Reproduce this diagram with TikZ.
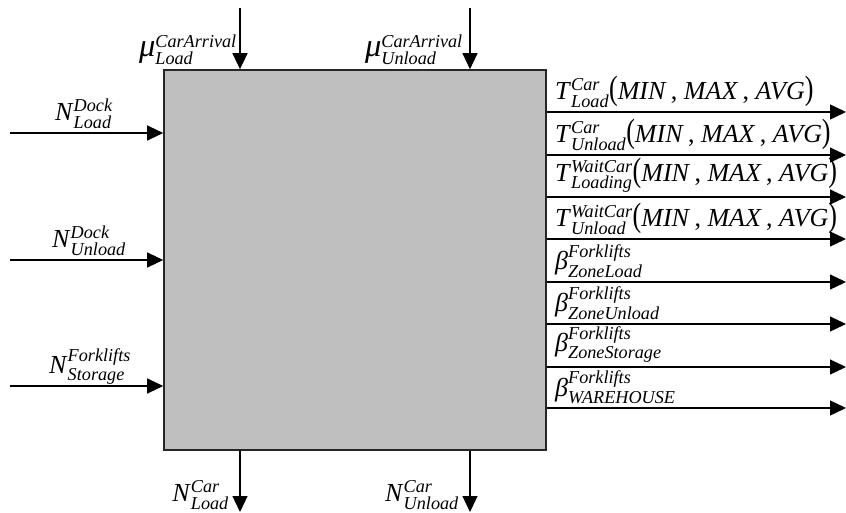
\documentclass[tikz,border=0pt]{standalone}
\usepackage{amsmath}
\usepackage{graphicx}
\usepackage{fontspec}
\setmainfont{Liberation Serif}
\usetikzlibrary{arrows.meta}

% italic symbol with stacked super- and subscript
\newcommand\qsym[3]{\textit{#1}$^{\textit{#2}}_{\textit{#3}}$}
% tall parenthesis
\newcommand\tallp[1]{\scalebox{1}[1.3]{#1}}
% statistic triple
\newcommand\stats{\tallp{(}\textit{MIN}\,, \textit{MAX}\,, \textit{AVG}\tallp{)}}
% enlarged Greek mu
\newcommand\bigmu{\scalebox{1.25}{μ}}

\tikzset{
  sysbox/.style={draw=black!85, line width=1.6pt, fill=gray!50,
                 minimum width=382pt, minimum height=380pt, inner sep=0pt},
  flow/.style={draw=black, line width=1.2pt,
               -{Triangle[length=16pt,width=15pt]}},
  lbl/.style={font=\fontsize{26}{30}\selectfont, inner sep=0pt}
}

\begin{document}
\begin{tikzpicture}[x=1pt,y=-1pt]
\useasboundingbox (0,0) rectangle (846,512);

% the system block
\node[sysbox] (sys) at (355,260) {};

% inputs from above
\coordinate (topA) at (240,8);
\coordinate (topB) at (470,8);
\draw[flow] (topA) -- (topA |- sys.north);
\draw[flow] (topB) -- (topB |- sys.north);
\node[lbl, anchor=south east] (muL) at (237,65) {\qsym{\bigmu}{CarArrival}{Load}};
\node[lbl, anchor=south east] (muU) at (463,65) {\qsym{\bigmu}{CarArrival}{Unload}};

% inputs from the left
\coordinate (inA) at (10,133);
\coordinate (inB) at (10,260);
\coordinate (inC) at (10,386);
\draw[flow] (inA) -- (inA -| sys.west);
\draw[flow] (inB) -- (inB -| sys.west);
\draw[flow] (inC) -- (inC -| sys.west);
\node[lbl, anchor=south west] (nDL) at (55,129) {\qsym{N}{Dock}{Load}};
\node[lbl, anchor=south west] (nDU) at (52,256) {\qsym{N}{Dock}{Unload}};
\node[lbl, anchor=south west] (nFS) at (49,385) {\qsym{N}{Forklifts}{Storage}};

% outputs below
\coordinate (botA) at (240,512);
\coordinate (botB) at (470,512);
\draw[flow] (botA |- sys.south) -- (botA);
\draw[flow] (botB |- sys.south) -- (botB);
\node[lbl, anchor=south east] (nCL) at (229,510) {\qsym{N}{Car}{Load}};
\node[lbl, anchor=south east] (nCU) at (459,510) {\qsym{N}{Car}{Unload}};

% outputs to the right
\foreach \i/\yy/\txt in {
  1/112/{\qsym{T}{Car}{Load}\stats},
  2/155/{\qsym{T}{Car}{Unload}\stats},
  3/197/{\qsym{T}{WaitCar}{Loading}\stats},
  4/239/{\qsym{T}{WaitCar}{Unload}\stats},
  5/282/{\qsym{β}{Forklifts}{ZoneLoad}},
  6/324/{\qsym{β}{Forklifts}{ZoneUnload}},
  7/367/{\qsym{β}{Forklifts}{ZoneStorage}},
  8/408/{\qsym{β}{Forklifts}{WAREHOUSE}}}{
  \coordinate (out\i) at (846,\yy);
  \draw[flow] (out\i -| sys.east) -- (out\i);
  \node[lbl, anchor=south west] (outlbl\i) at (555,\yy-4) {\txt};
}
\end{tikzpicture}
\end{document}
